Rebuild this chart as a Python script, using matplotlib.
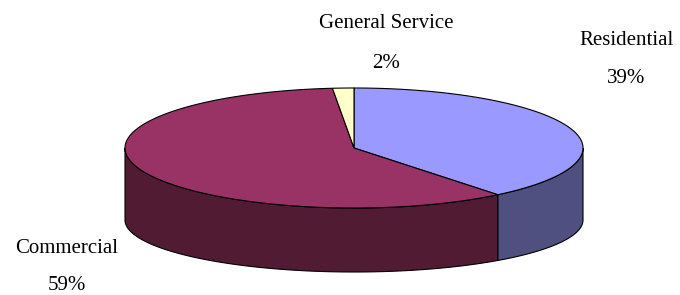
import numpy as np
import matplotlib
matplotlib.use("Agg")
import matplotlib.pyplot as plt
from matplotlib.patches import Polygon

# ── Data ──────────────────────────────────────────────────
categories = ["Residential", "Commercial", "General Service"]
shares     = [39.2, 59.3, 1.5]
top_colors = ["#9999FF", "#993366", "#FFFFCC"]
side_colors = ["#4F4F80", "#511C33", "#80806A"]

# ── Geometry (pixel space) ────────────────────────────────
CX = 354
RX = 229
CY_TOP, RY_TOP = 148, 60
CY_BOT, RY_BOT = 220, 52

fig = plt.figure(figsize=(6.8, 2.95), dpi=100)
ax = fig.add_axes([0, 0, 1, 1])
ax.set_xlim(0, 680)
ax.set_ylim(295, 0)
ax.axis("off")


def pts(t, cy, ry):
    return CX + RX * np.sin(t), cy - ry * np.cos(t)


total = sum(shares)
bounds = np.concatenate([[0], np.cumsum(shares) / total * 2 * np.pi])

# side walls (front half only: 90°..270°)
for i in range(len(shares)):
    a, b = bounds[i], bounds[i + 1]
    a2, b2 = max(a, np.pi / 2), min(b, 3 * np.pi / 2)
    if b2 <= a2:
        continue
    t = np.linspace(a2, b2, 120)
    xt, yt = pts(t, CY_TOP, RY_TOP)
    xb, yb = pts(t[::-1], CY_BOT, RY_BOT)
    poly = Polygon(np.column_stack([np.r_[xt, xb], np.r_[yt, yb]]),
                   closed=True, facecolor=side_colors[i],
                   edgecolor="black", linewidth=0.8, zorder=1)
    ax.add_patch(poly)

# top faces
for i in range(len(shares)):
    a, b = bounds[i], bounds[i + 1]
    t = np.linspace(a, b, max(int(200 * (b - a)), 10))
    xt, yt = pts(t, CY_TOP, RY_TOP)
    poly = Polygon(np.column_stack([np.r_[CX, xt], np.r_[CY_TOP, yt]]),
                   closed=True, facecolor=top_colors[i],
                   edgecolor="black", linewidth=0.8, zorder=2)
    ax.add_patch(poly)

# ── Labels ────────────────────────────────────────────────
label_pos = {
    "Residential":     (626, 45, 83),
    "Commercial":      (67, 253, 290),
    "General Service": (386, 28, 68),
}
font = dict(family=["Liberation Serif", "DejaVu Serif"], fontsize=15,
            color="black", ha="center", va="baseline")
for name, val in zip(categories, shares):
    x, y1, y2 = label_pos[name]
    ax.text(x, y1, name, **font)
    ax.text(x, y2, f"{val / total * 100:.0f}%", **font)

fig.savefig("out.png", dpi=100, facecolor="white")
